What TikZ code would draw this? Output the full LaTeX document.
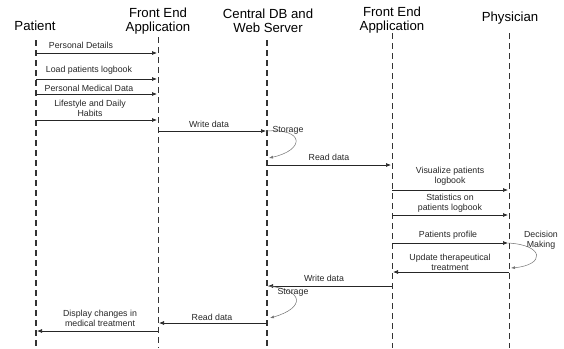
\documentclass[tikz,border=0pt]{standalone}
\usepackage{fontspec}
\setmainfont{Liberation Sans}
\usetikzlibrary{arrows.meta}
\begin{document}
\begin{tikzpicture}[x=1pt,y=-1pt,
  hdr/.style={font=\fontsize{13.2}{14}\selectfont, align=center, inner sep=0pt},
  lbl/.style={font=\fontsize{8.8}{10}\selectfont, align=center, inner sep=0pt, text=black!85},
  life/.style={dashed, dash pattern=on 6pt off 4pt, line width=0.7pt, black!80},
  lifeb/.style={life, line width=1.4pt},
  msg/.style={-{Latex[length=5pt,width=4pt]}, line width=0.7pt, black!85},
  loop/.style={-{Latex[length=4pt,width=3pt]}, line width=0.5pt, black!55}]
\useasboundingbox (0,0) rectangle (564,348);
% headers
\node[hdr] (hP) at (35,26) {Patient};
\node[hdr] (hF1) at (158,21) {Front End\\Application};
\node[hdr] (hDB) at (268,21) {Central DB and\\Web Server};
\node[hdr] (hF2) at (392,20) {Front End\\Application};
\node[hdr] (hPh) at (510,18) {Physician};
% lifelines
\coordinate (tP) at (36,40);   \coordinate (bP) at (36,348);
\coordinate (tF) at (158,37);  \coordinate (bF) at (158,348);
\coordinate (tD) at (267,40);  \coordinate (bD) at (267,348);
\coordinate (tG) at (392,33);  \coordinate (bG) at (392,348);
\coordinate (tH) at (509,33);  \coordinate (bH) at (509,348);
\draw[lifeb] (tP) -- (bP);
\draw[life] (tF) -- (bF);
\draw[lifeb] (tD) -- (bD);
\draw[life] (tG) -- (bG);
\draw[life] (tH) -- (bH);
% message endpoints
\coordinate (p1) at (36,53);  \coordinate (f1) at (157,53);
\coordinate (p2) at (36,79);  \coordinate (f2) at (157,79);
\coordinate (p3) at (36,94);  \coordinate (f3) at (157,94);
\coordinate (p4) at (36,120); \coordinate (f4) at (157,120);
\coordinate (f5) at (158,131); \coordinate (d5) at (266,131);
\coordinate (d6) at (269,158);
\coordinate (d7) at (267,165); \coordinate (g7) at (391,165);
\coordinate (g8) at (392,190); \coordinate (h8) at (508,190);
\coordinate (g9) at (392,215); \coordinate (h9) at (508,215);
\coordinate (g10) at (392,243); \coordinate (h10) at (508,243);
\coordinate (h11) at (511,268);
\coordinate (h12) at (509,272); \coordinate (g12) at (393,272);
\coordinate (g13) at (392,286); \coordinate (d13) at (268,286);
\coordinate (d14) at (270,318);
\coordinate (d15) at (267,323); \coordinate (f15) at (159,323);
\coordinate (f16) at (158,331); \coordinate (p16) at (37,331);
% messages
\draw[msg] (p1) -- (f1);
\node[lbl] (l1) at (81,45) {Personal Details};
\draw[msg] (p2) -- (f2);
\node[lbl] (l2) at (89,70) {Load patients logbook};
\draw[msg] (p3) -- (f3);
\node[lbl] (l3) at (89,88) {Personal Medical Data};
\draw[msg] (p4) -- (f4);
\node[lbl] (l4) at (90,108) {Lifestyle and Daily\\Habits};
\draw[msg] (f5) -- (d5);
\node[lbl] (l5) at (209,124) {Write data};
\draw[loop] (d5) .. controls (305,128) and (305,150) .. (d6);
\node[lbl] (l6) at (288,130) {Storage};
\draw[msg] (d7) -- (g7);
\node[lbl] (l7) at (329,157) {Read data};
\draw[msg] (g8) -- (h8);
\node[lbl] (l8) at (450,176) {Visualize patients\\logbook};
\draw[msg] (g9) -- (h9);
\node[lbl] (l9) at (450,203) {Statistics on\\patients logbook};
\draw[msg] (g10) -- (h10);
\node[lbl] (l10) at (448,235) {Patients profile};
\draw[loop] (h10) .. controls (545,245) and (545,265) .. (h11);
\node[lbl] (l11) at (541,240) {Decision\\Making};
\draw[msg] (h12) -- (g12);
\node[lbl] (l12) at (450,262) {Update therapeutical\\treatment};
\draw[msg] (g13) -- (d13);
\node[lbl] (l13) at (324,278) {Write data};
\draw[loop] (d13) .. controls (305,290) and (305,308) .. (d14);
\node[lbl] (l14) at (293,292) {Storage};
\draw[msg] (d15) -- (f15);
\node[lbl] (l15) at (212,317) {Read data};
\draw[msg] (f16) -- (p16);
\node[lbl] (l16) at (100,318) {Display changes in\\medical treatment};
\end{tikzpicture}
\end{document}
